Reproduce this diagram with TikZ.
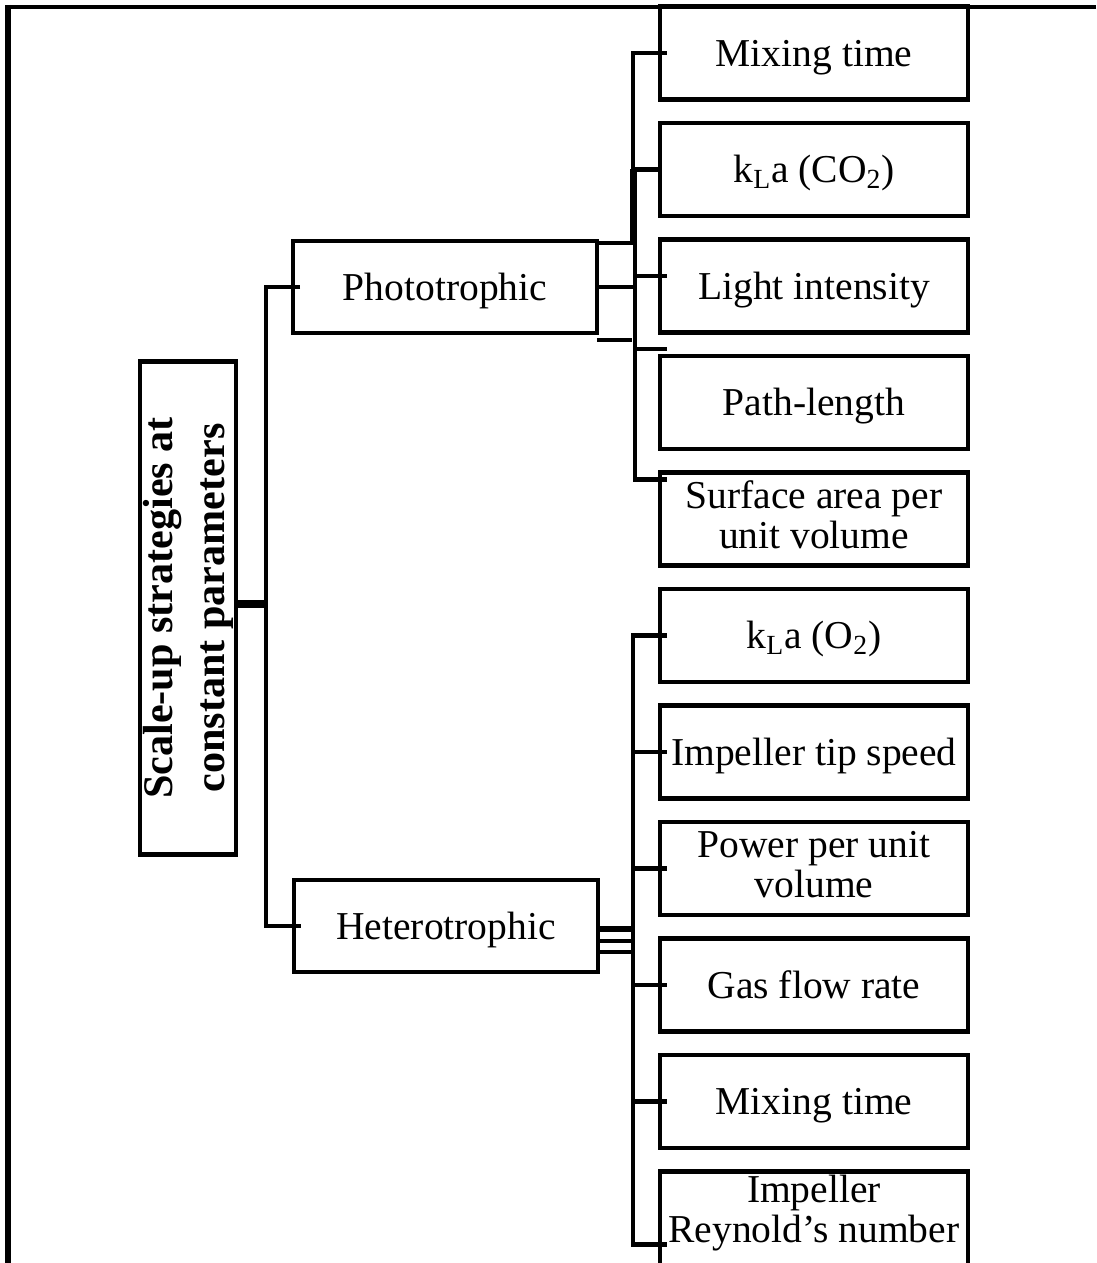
\documentclass[tikz,border=0pt]{standalone}
\usepackage{fontspec}
\setmainfont{Liberation Serif}
\usetikzlibrary{positioning}

\newcommand\wstrut{\rule[-0.216em]{0pt}{1.107em}}

\tikzset{
  box/.style={draw=black, line width=0.09cm, minimum width=6.16cm, minimum height=1.86cm,
    align=center, outer sep=0pt, inner sep=1pt, font=\fontsize{22.5}{22.8}\selectfont},
  leaf/.style={box, execute at begin node=\wstrut, execute at end node=\wstrut},
  midbox/.style={leaf, minimum width=6.08cm, minimum height=1.84cm},
  rootbox/.style={box, rotate=90, minimum width=9.86cm, minimum height=1.92cm,
    font=\fontsize{24}{29.6}\selectfont\bfseries},
  link/.style={black, line width=0.09cm},
}

\begin{document}
\begin{tikzpicture}[x=0.02cm, y=-0.02cm]
\useasboundingbox (0,0) rectangle (1096,1263);
\draw [black, line width=0.07cm] (1096,7) -- (6,7);
\draw [black, line width=0.11cm] (8,5) -- (8,1263);

\node [rootbox] (root) at (188,608) {Scale-up strategies at\\constant parameters};
\node [midbox] (photo) at (445,287) {Phototrophic};
\node [midbox] (hetero) at (446,926) {Heterotrophic};

\node [leaf] (mixA) at (814,53) {Mixing time};
\node [leaf, below=0.47cm of mixA] (klaCO) {k\textsubscript{L}a (CO\textsubscript{2})};
\node [leaf, below=0.47cm of klaCO] (light) {Light intensity};
\node [leaf, below=0.47cm of light] (path) {Path-length};
\node [leaf, below=0.47cm of path] (surf) {Surface area per\\unit volume};
\node [leaf, below=0.47cm of surf] (klaO) {k\textsubscript{L}a (O\textsubscript{2})};
\node [leaf, below=0.47cm of klaO] (tip) {Impeller tip speed};
\node [leaf, below=0.47cm of tip] (power) {Power per unit\\volume};
\node [leaf, below=0.47cm of power] (gas) {Gas flow rate};
\node [leaf, below=0.47cm of gas] (mixB) {Mixing time};
\node [box, below=0.47cm of mixB, minimum height=1cm] (reyn)
  {\rule{0pt}{0.75em}Impeller\\Reynold's number\\[0.7cm]\mbox{}};

% root
\coordinate (rj) at (266,604);
\draw [link, line width=0.16cm] (root.south |- rj) -- (rj);
\draw [link] ([xshift=0.14cm]photo.west) -| (rj) |- ([xshift=0.14cm]hetero.west);

% phototrophic
\coordinate (ptop) at (633,243);
\coordinate (pbus) at (635,243);
\coordinate (pstub) at (632,340);
\coordinate (lt) at ([xshift=0.14cm,yshift=0.2cm]light.west);
\coordinate (pth) at ([xshift=0.14cm,yshift=0.14cm]path.north west);
\draw [link] (photo.east |- ptop) -- (ptop);
\draw [link] (ptop) |- ([xshift=0.14cm]mixA.west);
\draw [link] (ptop |- klaCO.west) -- (klaCO.west);
\draw [link, line width=0.14cm] (ptop |- klaCO.west) -- (ptop);
\draw [link] (photo.east) -- (pbus |- photo.east);
\draw [link] (photo.east |- pstub) -- (pstub);
\draw [link] (pbus |- lt) -- (lt);
\draw [link] (pbus |- pth) -- (pth);
\draw [link] (pbus) |- ([xshift=0.14cm,yshift=-0.14cm]surf.north west);

% heterotrophic
\coordinate (hbus) at (633,929);
\coordinate (hbusB) at (633,941);
\coordinate (hbusC) at (633,952);
\coordinate (rn) at ([xshift=0.14cm,yshift=-1.46cm]reyn.north west);
\draw [link] ([xshift=0.14cm]klaO.west) -| (hbus |- rn) -- (rn);
\draw [link] (hbus |- tip.west) -- ([xshift=0.14cm]tip.west);
\draw [link] (hbus |- power.west) -- ([xshift=0.14cm]power.west);
\draw [link] (hbus |- gas.west) -- ([xshift=0.14cm]gas.west);
\draw [link] (hbus |- mixB.west) -- ([xshift=0.14cm]mixB.west);
\draw [link, line width=0.12cm] (hetero.east |- hbus) -- (hbus);
\draw [link] (hetero.east |- hbusB) -- (hbusB);
\draw [link] (hetero.east |- hbusC) -- (hbusC);
\end{tikzpicture}
\end{document}
